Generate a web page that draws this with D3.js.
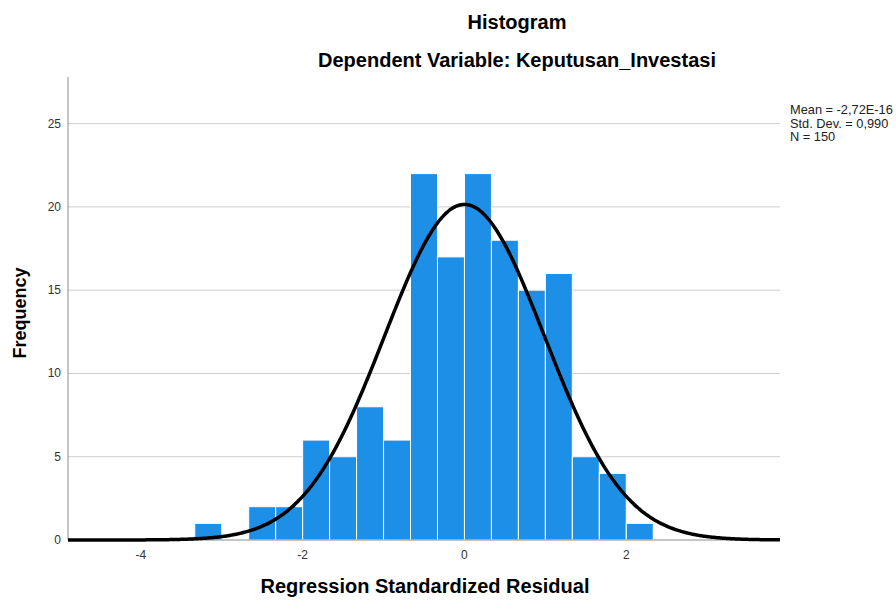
<!DOCTYPE html>
<html>
<head>
<meta charset="utf-8">
<script src="https://cdn.jsdelivr.net/npm/d3@7"></script>
<style>
  body { margin: 0; background: #fff; }
  svg { display: block; font-family: "Liberation Sans", Arial, sans-serif; }
</style>
</head>
<body>
<svg id="chart" width="896" height="600"></svg>
<script>
// Bin left edges (width 1/3) and frequencies
const binStarts = [-10/3, -3, -8/3, -7/3, -2, -5/3, -4/3, -1, -2/3, -1/3, 0, 1/3, 2/3, 1, 4/3, 5/3, 2];
const binWidth = 1/3;
const frequencies = [1, 0, 2, 2, 6, 5, 8, 6, 22, 17, 22, 18, 15, 16, 5, 4, 1];
const xTicks = [-4, -2, 0, 2];
const yTicks = [0, 5, 10, 15, 20, 25];
const statsLines = ["Mean = -2,72E-16", "Std. Dev. = 0,990", "N = 150"];
const mean = -2.72e-16, sd = 0.990, n = 150;

const svg = d3.select("#chart");
const mLeft = 68, mRight = 780, mTop = 77, mBottom = 540;

const x = d3.scaleLinear().domain([-4.9, 3.9]).range([mLeft, mRight]);
const y = d3.scaleLinear().domain([0, 27.8]).range([mBottom, mTop]);

// gridlines
svg.append("g").selectAll("line").data(yTicks.filter(d => d > 0)).join("line")
  .attr("x1", mLeft).attr("x2", mRight)
  .attr("y1", d => y(d)).attr("y2", d => y(d))
  .attr("stroke", "#cfcfcf").attr("stroke-width", 1);

// bars
const bins = binStarts.map((s, i) => ({x0: s, x1: s + binWidth, v: frequencies[i]}));
svg.append("g").selectAll("rect").data(bins.filter(b => b.v > 0)).join("rect")
  .attr("x", d => x(d.x0))
  .attr("width", d => x(d.x1) - x(d.x0))
  .attr("y", d => y(d.v))
  .attr("height", d => y(0) - y(d.v))
  .attr("fill", "#1e8fe6")
  .attr("stroke", "#ffffff").attr("stroke-width", 1);

// axes lines
svg.append("line").attr("x1", mLeft).attr("x2", mLeft).attr("y1", mTop).attr("y2", mBottom)
  .attr("stroke", "#8c8c8c").attr("stroke-width", 1);
svg.append("line").attr("x1", mLeft).attr("x2", mRight).attr("y1", mBottom).attr("y2", mBottom)
  .attr("stroke", "#8c8c8c").attr("stroke-width", 1);

// normal curve
const scaleFactor = n * binWidth;
const pts = d3.range(-4.9, 3.9001, 0.02).map(v => [v, scaleFactor * Math.exp(-0.5 * ((v - mean) / sd) ** 2) / (sd * Math.sqrt(2 * Math.PI))]);
svg.append("path").datum(pts)
  .attr("d", d3.line().x(d => x(d[0])).y(d => y(d[1])).curve(d3.curveBasis))
  .attr("fill", "none").attr("stroke", "#000").attr("stroke-width", 3.5);

// tick labels
svg.append("g").selectAll("text").data(xTicks).join("text")
  .attr("x", d => x(d)).attr("y", 559)
  .attr("text-anchor", "middle").attr("font-size", 12).attr("fill", "#333")
  .text(d => d);
svg.append("g").selectAll("text").data(yTicks).join("text")
  .attr("x", 61).attr("y", d => y(d) + 4)
  .attr("text-anchor", "end").attr("font-size", 12).attr("fill", "#333")
  .text(d => d);

// titles
svg.append("text").attr("x", 517).attr("y", 29).attr("text-anchor", "middle")
  .attr("font-size", 20).attr("font-weight", "bold").text("Histogram");
svg.append("text").attr("x", 517).attr("y", 67).attr("text-anchor", "middle")
  .attr("font-size", 20).attr("font-weight", "bold").text("Dependent Variable: Keputusan_Investasi");

// axis titles
svg.append("text").attr("x", 425).attr("y", 593).attr("text-anchor", "middle")
  .attr("font-size", 20).attr("font-weight", "bold").text("Regression Standardized Residual");
svg.append("text").attr("transform", "translate(26,313) rotate(-90)").attr("text-anchor", "middle")
  .attr("font-size", 18).attr("font-weight", "bold").text("Frequency");

// stats
svg.append("g").selectAll("text").data(statsLines).join("text")
  .attr("x", 790).attr("y", (d, i) => 114 + i * 13.5)
  .attr("font-size", 12.8).attr("fill", "#222")
  .text(d => d);
</script>
</body>
</html>
